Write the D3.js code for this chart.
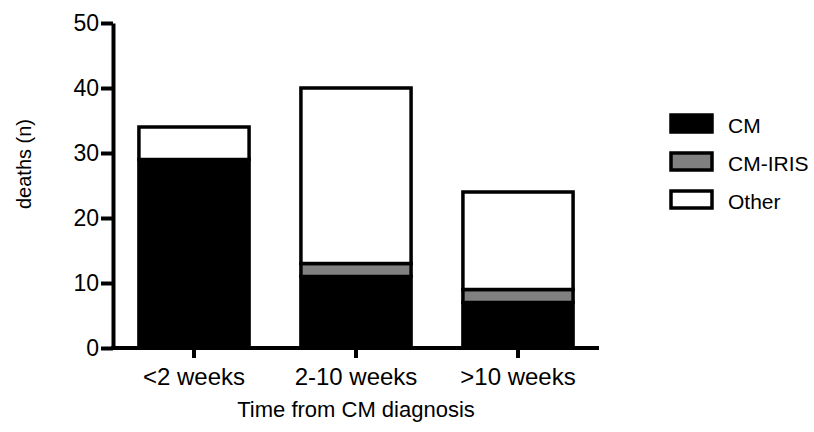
<!DOCTYPE html>
<html>
<head>
<meta charset="utf-8">
<script src="https://cdn.jsdelivr.net/npm/d3@7"></script>
<style>
  html, body { margin: 0; padding: 0; background: #fff; }
  svg { display: block; font-family: "Liberation Sans", Arial, sans-serif; }
</style>
</head>
<body>
<svg id="chart" width="814" height="432"></svg>
<script>
// Deaths by time from CM diagnosis, stacked by cause
const categories = ["<2 weeks", "2-10 weeks", ">10 weeks"];
const seriesNames = ["CM", "CM-IRIS", "Other"];
const cmValues = [29, 11, 7];
const irisValues = [0, 2, 2];
const otherValues = [5, 27, 15];
const yTicks = [0, 10, 20, 30, 40, 50];
const seriesColors = ["#000000", "#808080", "#ffffff"];

const svg = d3.select("#chart");
const plotLeft = 113, plotRight = 599, plotTop = 23, plotBottom = 348;

const x = d3.scaleBand().domain(categories).range([plotLeft, plotRight])
  .paddingInner(0.32).paddingOuter(0.16);
const y = d3.scaleLinear().domain([0, 50]).range([plotBottom, plotTop]);

const rows = categories.map((c, i) => ({
  cat: c, "CM": cmValues[i], "CM-IRIS": irisValues[i], "Other": otherValues[i]
}));
const stacked = d3.stack().keys(seriesNames)(rows);

// stacked bar segments
svg.append("g").selectAll("g")
  .data(stacked)
  .join("g")
  .attr("fill", (d, i) => seriesColors[i])
  .selectAll("rect")
  .data(d => d.filter(s => s[1] - s[0] > 0))
  .join("rect")
  .attr("x", d => x(d.data.cat))
  .attr("y", d => y(d[1]))
  .attr("width", x.bandwidth())
  .attr("height", d => y(d[0]) - y(d[1]))
  .attr("stroke", "#000")
  .attr("stroke-width", 3.5);

// y axis
const yAxis = svg.append("g")
  .attr("transform", `translate(${plotLeft},0)`)
  .call(d3.axisLeft(y).tickValues(yTicks).tickSize(12).tickPadding(2).tickSizeOuter(0));
yAxis.select(".domain").attr("stroke-width", 4).attr("stroke", "#000");
yAxis.selectAll(".tick line").attr("stroke-width", 4).attr("stroke", "#000");
yAxis.selectAll(".tick text").attr("font-size", 23).attr("fill", "#000")
  .attr("font-family", "Liberation Sans, Arial, sans-serif");

// x axis
const xAxis = svg.append("g")
  .attr("transform", `translate(0,${plotBottom})`)
  .call(d3.axisBottom(x).tickSize(10).tickPadding(10).tickSizeOuter(0));
xAxis.select(".domain").attr("stroke-width", 4).attr("stroke", "#000")
  .attr("d", `M${plotLeft - 2},0H${plotRight}`);
xAxis.selectAll(".tick line").attr("stroke-width", 4).attr("stroke", "#000");
xAxis.selectAll(".tick text").attr("font-size", 24).attr("fill", "#000")
  .attr("font-family", "Liberation Sans, Arial, sans-serif");

// axis titles
svg.append("text")
  .attr("transform", "translate(31,164) rotate(-90)")
  .attr("text-anchor", "middle")
  .attr("font-size", 20)
  .text("deaths (n)");

svg.append("text")
  .attr("x", 356).attr("y", 417)
  .attr("text-anchor", "middle")
  .attr("font-size", 22)
  .text("Time from CM diagnosis");

// legend
const legend = svg.append("g").attr("transform", "translate(671,115)");
const legendItems = legend.selectAll("g")
  .data(seriesNames)
  .join("g")
  .attr("transform", (d, i) => `translate(0,${i * 38})`);
legendItems.append("rect")
  .attr("width", 41).attr("height", 17)
  .attr("fill", (d, i) => seriesColors[i])
  .attr("stroke", "#000").attr("stroke-width", 3.5);
legendItems.append("text")
  .attr("x", 57).attr("y", 18)
  .attr("font-size", 21)
  .text(d => d);
</script>
</body>
</html>
